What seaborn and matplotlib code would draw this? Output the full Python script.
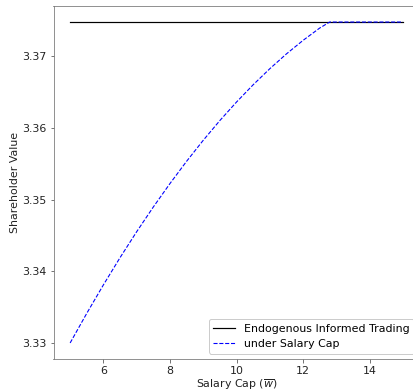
import matplotlib
matplotlib.use("Agg")
import matplotlib.pyplot as plt
import seaborn as sns
import pandas as pd

# Salary cap grid and shareholder value under the cap
salary_cap = [5.0, 5.5, 6.0, 6.5, 7.0, 7.5, 8.0, 8.5, 9.0, 9.5, 10.0, 10.5,
              11.0, 11.5, 12.0, 12.5, 12.8, 13.0, 13.5, 14.0, 14.5, 15.0]
value_capped = [3.33000, 3.33414, 3.33811, 3.34191, 3.34553, 3.34898, 3.35225, 3.35536,
                3.35829, 3.36105, 3.36363, 3.36604, 3.36828, 3.37035, 3.37224, 3.37396,
                3.37480, 3.37480, 3.37480, 3.37480, 3.37480, 3.37480]
# Benchmark: endogenous informed trading without a cap (constant)
value_endogenous = 3.3748

label_endo = "Endogenous Informed Trading"
label_cap = "under Salary Cap"

df_cap = pd.DataFrame({"cap": salary_cap, "value": value_capped})
df_endo = pd.DataFrame({"cap": salary_cap, "value": [value_endogenous] * len(salary_cap)})

DPI = 72
FS = 11
fig = plt.figure(figsize=(413 / DPI, 391 / DPI), dpi=DPI)
ax = fig.add_axes([53.5 / 413, 32 / 391, 366 / 413, 353 / 391])

sns.lineplot(data=df_endo, x="cap", y="value", ax=ax, color="black",
             linewidth=1.2, label=label_endo)
sns.lineplot(data=df_cap, x="cap", y="value", ax=ax, color="blue",
             linewidth=1.1, linestyle="--", label=label_cap)

ax.set_xticks([6, 8, 10, 12, 14])
ax.set_yticks([3.33, 3.34, 3.35, 3.36, 3.37])
ax.tick_params(labelsize=FS, colors="#222222", color="#555555")
for s in ax.spines.values():
    s.set_color("#777777")

ax.set_xlabel(r"Salary Cap ($\overline{w}$)", fontsize=FS, color="#222222", labelpad=1)
ax.set_ylabel("Shareholder Value", fontsize=FS, color="#222222", labelpad=2)

ax.legend(loc="lower right", fontsize=FS, framealpha=1)

fig.savefig("out.png", dpi=DPI)
